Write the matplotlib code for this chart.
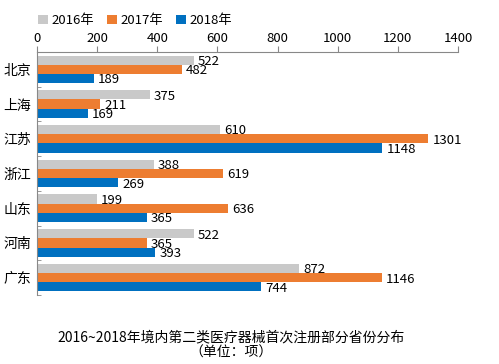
import numpy as np
import matplotlib.pyplot as plt

plt.rcParams['font.family'] = ['Noto Sans CJK SC', 'DejaVu Sans']

provinces = ["北京", "上海", "江苏", "浙江", "山东", "河南", "广东"]
years = ["2016年", "2017年", "2018年"]
v2016 = [522, 375, 610, 388, 199, 522, 872]
v2017 = [482, 211, 1301, 619, 636, 365, 1146]
v2018 = [189, 169, 1148, 269, 365, 393, 744]
colors = ["#C9C9C9", "#ED7D31", "#0070C0"]

fig = plt.figure(figsize=(4.99, 3.64), dpi=100)
ax = fig.add_axes([37 / 499, 1 - 295 / 364, 421 / 499, 243 / 364])

y = np.arange(len(provinces))
h = 0.265
for i, (vals, c, lab) in enumerate(zip([v2016, v2017, v2018], colors, years)):
    pos = y + (i - 1) * h
    ax.barh(pos, vals, height=h, color=c, label=lab)
    for p, v in zip(pos, vals):
        ax.text(v + 14, p + 0.04, str(v), va='center', ha='left', fontsize=9.5)

ax.set_xlim(0, 1400)
ax.set_ylim(len(provinces) - 0.5, -0.5)
ax.xaxis.tick_top()
ax.set_xticks(range(0, 1401, 200))
ax.tick_params(axis='x', labelsize=9.5, length=4, color='#888888', pad=1)
ax.set_yticks(y)
ax.set_yticklabels(provinces, fontsize=10)
ax.tick_params(axis='y', length=0, pad=4)
ax.set_yticks(np.arange(-0.5, len(provinces), 1), minor=True)
ax.tick_params(axis='y', which='minor', length=3, direction='in', color='#888888')
for s in ['right', 'bottom']:
    ax.spines[s].set_visible(False)
for s in ['top', 'left']:
    ax.spines[s].set_color('#888888')

fig.legend(loc='upper left', bbox_to_anchor=(33 / 499, 1 - 9 / 364), ncol=3,
           frameon=False, fontsize=9.5, handlelength=0.7, handleheight=0.7,
           handletextpad=0.3, columnspacing=1.0, borderaxespad=0)

fig.text(231 / 499, 1 - 337 / 364, "2016~2018年境内第二类医疗器械首次注册部分省份分布",
         ha='center', va='center', fontsize=10)
fig.text(231 / 499, 1 - 353 / 364, "（单位：项）", ha='center', va='center', fontsize=10)

fig.savefig("out.png", dpi=100)
